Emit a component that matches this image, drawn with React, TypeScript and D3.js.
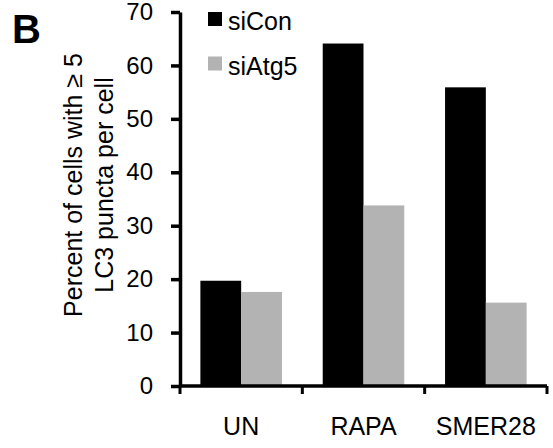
import React, { useEffect, useRef } from 'react';
import * as d3 from 'd3';

const categories = ['UN', 'RAPA', 'SMER28'];
const seriesNames = ['siCon', 'siAtg5'];
const siCon = [19.7, 64.1, 55.9];
const siAtg5 = [17.6, 33.8, 15.6];
const yTicks = [0, 10, 20, 30, 40, 50, 60, 70];
const colors = ['#000000', '#b3b3b3'];

const W = 553;
const H = 448;
const FONT = '"Liberation Sans", Arial, Helvetica, sans-serif';

export default function App() {
  const ref = useRef<SVGSVGElement>(null);

  useEffect(() => {
    const svg = d3.select(ref.current);
    svg.selectAll('*').remove();

    const left = 180;
    const right = 547;
    const top = 12;
    const bottom = 386;

    const x = d3.scaleBand().domain(categories).range([left, right]).padding(0);
    const xs = d3.scaleBand().domain(seriesNames)
      .range([0, x.bandwidth()]).paddingInner(0).paddingOuter(0.5);
    const y = d3.scaleLinear().domain([0, 70]).range([bottom, top]);

    const values = [siCon, siAtg5];

    // bars
    seriesNames.forEach((s, si) => {
      svg.append('g').selectAll('rect')
        .data(categories)
        .enter()
        .append('rect')
        .attr('x', c => (x(c) as number) + (xs(s) as number))
        .attr('y', (c, i) => y(values[si][i]))
        .attr('width', xs.bandwidth())
        .attr('height', (c, i) => bottom - y(values[si][i]))
        .attr('fill', colors[si]);
    });

    // y axis
    const yAxis = d3.axisLeft(y).tickValues(yTicks).tickSize(9).tickSizeOuter(0).tickPadding(18);
    const gy = svg.append('g')
      .attr('transform', `translate(${left},0)`)
      .call(yAxis);
    gy.selectAll('path, line').attr('stroke', '#000').attr('stroke-width', 3.5);
    gy.selectAll('text').attr('font-size', 24).attr('font-family', FONT).attr('fill', '#000');

    // x axis: line with boundary ticks, labels at centers
    const gx = svg.append('g');
    gx.append('line')
      .attr('x1', left).attr('x2', right)
      .attr('y1', bottom).attr('y2', bottom)
      .attr('stroke', '#000').attr('stroke-width', 3.5);
    const edges = categories.map(c => x(c) as number).concat([x.range()[1]]);
    gx.selectAll('line.tk')
      .data(edges)
      .enter()
      .append('line')
      .attr('class', 'tk')
      .attr('x1', d => d).attr('x2', d => d)
      .attr('y1', bottom).attr('y2', bottom + 8)
      .attr('stroke', '#000').attr('stroke-width', 3);
    gx.selectAll('text')
      .data(categories)
      .enter()
      .append('text')
      .attr('x', c => (x(c) as number) + x.bandwidth() / 2)
      .attr('y', 435)
      .attr('text-anchor', 'middle')
      .attr('font-size', 25)
      .attr('font-family', FONT)
      .text(c => c);

    // y label
    const lab = svg.append('text')
      .attr('transform', 'translate(82,185) rotate(-90)')
      .attr('text-anchor', 'middle')
      .attr('font-size', 25)
      .attr('font-family', FONT);
    lab.append('tspan').attr('x', 0).attr('y', 0).text('Percent of cells with \u2265 5');
    lab.append('tspan').attr('x', 0).attr('y', 31).text('LC3 puncta per cell');

    // legend
    const lg = svg.append('g');
    seriesNames.forEach((s, i) => {
      lg.append('rect')
        .attr('x', 208).attr('y', 12 + i * 44.5)
        .attr('width', 14).attr('height', 14)
        .attr('fill', colors[i]);
      lg.append('text')
        .attr('x', 228).attr('y', 30 + i * 44.5)
        .attr('font-size', 25)
        .attr('font-family', FONT)
        .text(s);
    });

    // panel letter
    svg.append('text')
      .attr('x', 12).attr('y', 43)
      .attr('font-size', 40)
      .attr('font-weight', 'bold')
      .attr('font-family', FONT)
      .text('B');
  }, []);

  return (
    <svg ref={ref} width={W} height={H}
      style={{ position: 'absolute', left: 0, top: 0, background: '#fff' }} />
  );
}
